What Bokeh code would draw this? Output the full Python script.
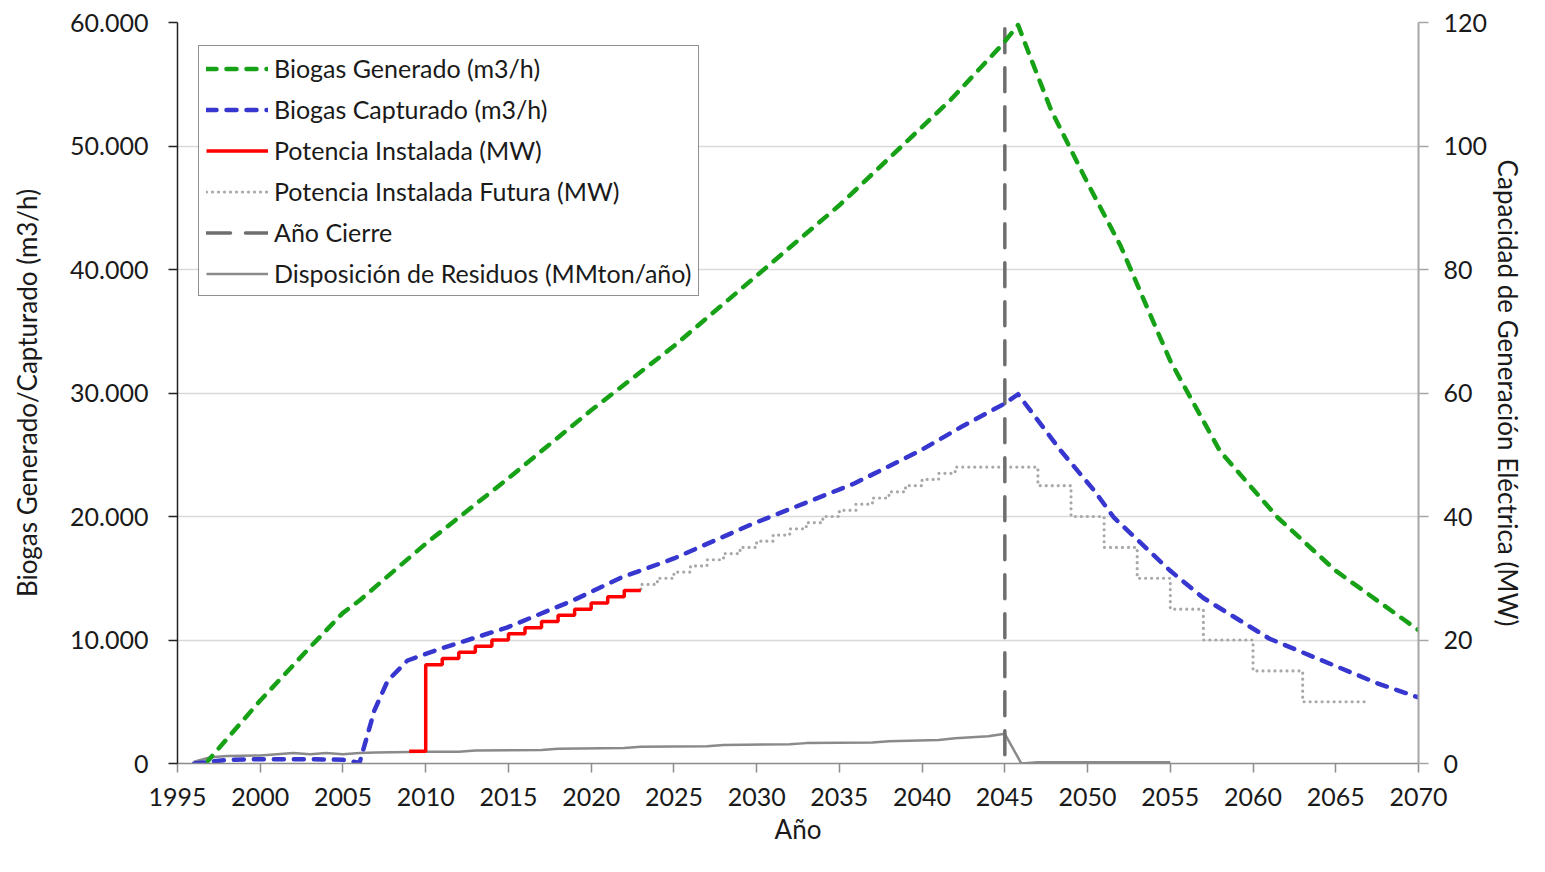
from bokeh.plotting import figure
from bokeh.models import Range1d, LinearAxis, FixedTicker, Legend, LegendItem
from bokeh.embed import file_html
from bokeh.resources import INLINE

# ---------------- data ----------------
gen_years = [1996.7, 2000, 2003, 2005, 2006, 2010, 2015, 2020, 2025, 2030, 2035,
             2041.7, 2044.9, 2045.8, 2046.6, 2047.8, 2050, 2052, 2053.8, 2055,
             2058, 2061.5, 2065, 2067.5, 2070]
gen_m3h = [0, 5100, 9400, 12200, 13200, 17800, 23100, 28600, 33800, 39500, 45200,
           53700, 58300, 59800, 57000, 52900, 47000, 41900, 36300, 32600,
           25300, 19900, 15600, 13200, 10800]

cap_years = [1996, 1997, 1998, 2000, 2002, 2004, 2005, 2006, 2006.9, 2007.7, 2008.9,
             2010.9, 2014.9, 2018.9, 2021.8, 2025, 2029.8, 2035.9, 2039.9, 2042.3,
             2045, 2045.8, 2048.4, 2050.4, 2051.6, 2055, 2057, 2061, 2067.5, 2070]
cap_m3h = [0, 150, 300, 350, 350, 330, 300, 50, 4300, 6700, 8340,
           9300, 11000, 13200, 15050, 16600, 19430, 22670, 25340, 27200,
           29150, 29900, 25300, 22100, 19900, 15600, 13400, 10100, 6500, 5350]

inst_years = [2009, 2010, 2011, 2012, 2013, 2014, 2015, 2016, 2017, 2018, 2019,
              2020, 2021, 2022, 2023]
inst_mw = [2, 16, 17, 18, 19, 20, 21, 22, 23, 24, 25, 26, 27, 28, 28]

fut_years = list(range(2022, 2068))
fut_mw = [28, 29, 30, 31, 32, 33, 34, 35, 36, 37, 38, 39, 40, 41, 42, 43, 44, 45,
          46, 47, 48, 48, 48, 48, 48, 45, 45, 40, 40, 35, 35, 30, 30, 25, 25,
          20, 20, 20, 15, 15, 15, 10, 10, 10, 10, 10]

cierre_years = [2045, 2045]
cierre_m3h = [59500, 0]

res_years = [1996, 1997, 1998, 2000, 2002, 2003, 2004, 2005, 2006, 2007, 2010,
             2012, 2013, 2017, 2018, 2022, 2023, 2027, 2028, 2032, 2033, 2037,
             2038, 2041, 2042, 2044, 2045, 2046, 2047, 2055]
res_val = [0.3, 1.0, 1.2, 1.3, 1.7, 1.5, 1.7, 1.5, 1.7, 1.8, 1.9,
           1.9, 2.1, 2.2, 2.4, 2.5, 2.7, 2.8, 3.0, 3.1, 3.3, 3.4,
           3.6, 3.8, 4.1, 4.4, 4.8, 0.0, 0.2, 0.2]

x_ticks = [1995, 2000, 2005, 2010, 2015, 2020, 2025, 2030, 2035, 2040, 2045,
           2050, 2055, 2060, 2065, 2070]
left_ticks = [0, 10000, 20000, 30000, 40000, 50000, 60000]
left_labels = ["0", "10.000", "20.000", "30.000", "40.000", "50.000", "60.000"]
right_ticks = [0, 20, 40, 60, 80, 100, 120]

labels = ["Biogas Generado (m3/h)", "Biogas Capturado (m3/h)", "Potencia Instalada (MW)",
          "Potencia Instalada Futura (MW)", "Año Cierre", "Disposición de Residuos (MMton/año)"]

# ---------------- figure ----------------
FONT = "Lato"
TXT = "#1a1a1a"
TICK_FS = "25px"
LAB_FS = "26px"

p = figure(width=1528, height=855, output_backend="svg", toolbar_location=None,
           x_range=Range1d(1995, 2070), y_range=Range1d(0, 60000),
           min_border_left=177, min_border_right=110, min_border_top=22,
           min_border_bottom=92)
p.extra_y_ranges = {"mw": Range1d(0, 120)}
p.outline_line_color = None
p.background_fill_color = "white"
p.xgrid.visible = False
p.ygrid.grid_line_color = "#d9d9d9"
p.ygrid.grid_line_width = 1.5

# x axis
xa = p.xaxis[0]
xa.ticker = FixedTicker(ticks=x_ticks)
xa.axis_label = "Año"
xa.axis_line_color = "#8c8c8c"
xa.axis_line_width = 1.5
xa.major_tick_line_color = "#8c8c8c"
xa.major_tick_line_width = 1.5
xa.major_tick_out = 9
xa.major_tick_in = 0
xa.minor_tick_line_color = None
xa.major_label_text_font = FONT
xa.major_label_text_font_size = TICK_FS
xa.major_label_text_color = TXT
xa.major_label_standoff = 15
xa.axis_label_text_font = FONT
xa.axis_label_text_font_size = LAB_FS
xa.axis_label_text_font_style = "normal"
xa.axis_label_text_color = TXT
xa.axis_label_standoff = 4

# left axis
ya = p.yaxis[0]
ya.ticker = FixedTicker(ticks=left_ticks)
ya.major_label_overrides = dict(zip(left_ticks, left_labels))
ya.axis_label = "Biogas Generado/Capturado (m3/h)"
ya.axis_line_color = "#222222"
ya.axis_line_width = 1.5
ya.major_tick_line_color = "#222222"
ya.major_tick_line_width = 1.5
ya.major_tick_out = 9
ya.major_tick_in = 0
ya.minor_tick_line_color = None
ya.major_label_text_font = FONT
ya.major_label_text_font_size = TICK_FS
ya.major_label_text_color = TXT
ya.major_label_standoff = 20
ya.axis_label_text_font = FONT
ya.axis_label_text_font_size = LAB_FS
ya.axis_label_text_font_style = "normal"
ya.axis_label_text_color = TXT
ya.axis_label_standoff = 24

# right axis
ra = LinearAxis(y_range_name="mw", ticker=FixedTicker(ticks=right_ticks),
                axis_label="Capacidad de Generación Eléctrica (MW)")
ra.axis_line_color = "#a6a6a6"
ra.axis_line_width = 2
ra.major_tick_line_color = "#a6a6a6"
ra.major_tick_line_width = 1.5
ra.major_tick_out = 10
ra.major_tick_in = 0
ra.minor_tick_line_color = None
ra.major_label_text_font = FONT
ra.major_label_text_font_size = TICK_FS
ra.major_label_text_color = TXT
ra.major_label_standoff = 15
ra.axis_label_text_font = FONT
ra.axis_label_text_font_size = LAB_FS
ra.axis_label_text_font_style = "normal"
ra.axis_label_text_color = TXT
ra.axis_label_standoff = 2
p.add_layout(ra, "right")

# ---------------- glyphs ----------------
r_fut = p.step(fut_years, fut_mw, mode="after", y_range_name="mw",
               line_color="#a8a8a8", line_width=3.2, line_dash="0 6", line_cap="round")
r_res = p.line(res_years, res_val, y_range_name="mw", line_color="#8a8a8a", line_width=2.5)
r_cie = p.line(cierre_years, cierre_m3h, line_color="#6e6e6e", line_width=3.5,
               line_dash="24 15", line_cap="round")
r_gen = p.line(gen_years, gen_m3h, line_color="#17a117", line_width=4.5,
               line_dash="10 10", line_cap="round", line_join="round")
r_cap = p.line(cap_years, cap_m3h, line_color="#3737d0", line_width=4.5,
               line_dash="10 10", line_cap="round", line_join="round")
r_ins = p.step(inst_years, inst_mw, mode="after", y_range_name="mw",
               line_color="#ff0000", line_width=3.5)

legend = Legend(items=[LegendItem(label=labels[0], renderers=[r_gen]),
                       LegendItem(label=labels[1], renderers=[r_cap]),
                       LegendItem(label=labels[2], renderers=[r_ins]),
                       LegendItem(label=labels[3], renderers=[r_fut]),
                       LegendItem(label=labels[4], renderers=[r_cie]),
                       LegendItem(label=labels[5], renderers=[r_res])],
                location=(21, 467))
legend.label_text_font = FONT
legend.label_text_font_size = "25px"
legend.label_text_color = TXT
legend.glyph_width = 62
legend.glyph_height = 27
legend.label_height = 27
legend.label_standoff = 6
legend.spacing = 11
legend.padding = 7
legend.margin = 0
legend.border_line_color = "#222222"
legend.border_line_width = 1.5
legend.background_fill_color = "white"
legend.background_fill_alpha = 1
p.add_layout(legend, "center")

open("out.html", "w").write(file_html(p, INLINE))
